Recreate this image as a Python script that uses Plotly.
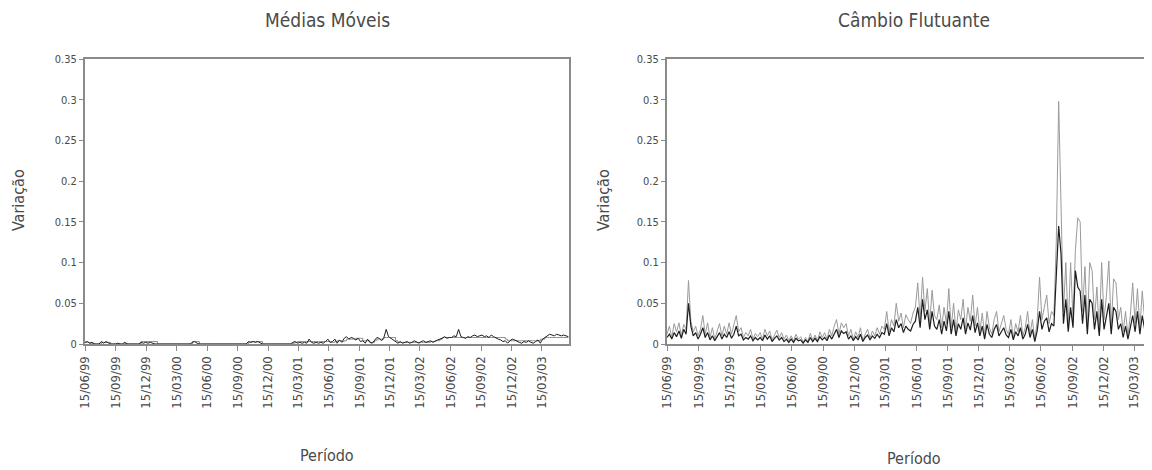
import pandas as pd
import plotly.graph_objects as go

# ---------------- data ----------------
weeks = pd.date_range("1999-06-15", periods=208, freq="7D")

tick_dates = ["1999-06-15", "1999-09-15", "1999-12-15", "2000-03-15", "2000-06-15",
              "2000-09-15", "2000-12-15", "2001-03-15", "2001-06-15", "2001-09-15",
              "2001-12-15", "2002-03-15", "2002-06-15", "2002-09-15", "2002-12-15",
              "2003-03-15"]
tick_labels = ["15/06/99", "15/09/99", "15/12/99", "15/03/00", "15/06/00", "15/09/00",
               "15/12/00", "15/03/01", "15/06/01", "15/09/01", "15/12/01", "15/03/02",
               "15/06/02", "15/09/02", "15/12/02", "15/03/03"]
y_ticks = [0, 0.05, 0.1, 0.15, 0.2, 0.25, 0.3, 0.35]

# Médias Móveis - step (gray) series
mm_gray = [
    0.002, 0.002, 0.001, 0.001, 0, 0, 0, 0.002, 0.002, 0.002, 0.002, 0, 0,
    0, 0, 0, 0, 0.001, 0, 0, 0, 0, 0, 0, 0.003, 0.003,
    0.003, 0.003, 0.003, 0.003, 0.003, 0, 0, 0, 0, 0, 0, 0, 0,
    0, 0, 0, 0, 0, 0, 0, 0.003, 0.003, 0.003, 0, 0, 0,
    0, 0, 0, 0, 0, 0, 0, 0, 0, 0, 0, 0, 0,
    0, 0, 0, 0, 0, 0.002, 0.003, 0.003, 0.003, 0.003, 0.003, 0, 0,
    0, 0, 0, 0, 0, 0, 0, 0, 0, 0, 0, 0.001, 0.002,
    0.003, 0.003, 0.003, 0.003, 0.003, 0.003, 0.003, 0.003, 0.003, 0.003, 0.003, 0.003, 0.003,
    0.003, 0.002, 0.002, 0.003, 0.004, 0.004, 0.003, 0.004, 0.006, 0.006, 0.006, 0.006, 0.007,
    0.007, 0.007, 0.004, 0.004, 0.004, 0.002, 0.002, 0.004, 0.006, 0.006, 0.006, 0.008, 0.008,
    0.008, 0.008, 0.008, 0.004, 0.002, 0.002, 0.002, 0.002, 0.002, 0.002, 0.002, 0.002, 0.002,
    0.002, 0.002, 0.002, 0.002, 0.002, 0.003, 0.003, 0.004, 0.004, 0.006, 0.008, 0.008, 0.008,
    0.008, 0.008, 0.008, 0.008, 0.008, 0.008, 0.008, 0.008, 0.008, 0.008, 0.008, 0.008, 0.008,
    0.008, 0.008, 0.008, 0.008, 0.008, 0.008, 0.008, 0.008, 0.008, 0.008, 0.008, 0.006, 0.004,
    0.004, 0.004, 0.004, 0.004, 0.004, 0.004, 0.004, 0.004, 0.004, 0.004, 0.004, 0.004, 0.004,
    0.006, 0.006, 0.008, 0.008, 0.008, 0.008, 0.008, 0.008, 0.008, 0.008, 0.008, 0.008, 0.008,
]
# Médias Móveis - daily variation (black) series
mm_black = [
    0.002, 0.003, 0.001, 0.002, 0, 0, 0, 0.003, 0.001, 0.003, 0.001, 0, 0,
    0, 0.001, 0, 0, 0.002, 0, 0, 0, 0, 0, 0, 0.002, 0.001,
    0.002, 0.001, 0.002, 0.001, 0, 0, 0, 0, 0, 0, 0, 0, 0,
    0, 0, 0, 0, 0, 0, 0, 0.002, 0.003, 0.001, 0, 0, 0,
    0, 0, 0, 0, 0, 0, 0, 0, 0, 0, 0, 0, 0,
    0, 0, 0, 0, 0, 0.003, 0.002, 0.003, 0.002, 0.003, 0.001, 0, 0,
    0, 0, 0, 0, 0, 0, 0, 0, 0, 0, 0, 0.002, 0.003,
    0.001, 0.002, 0.001, 0.002, 0.001, 0.006, 0.002, 0.001, 0.002, 0.001, 0.002, 0.001, 0.003,
    0.006, 0.002, 0.003, 0.006, 0.001, 0.005, 0.002, 0.007, 0.009, 0.006, 0.008, 0.007, 0.005,
    0.007, 0.003, 0.004, 0.001, 0.006, 0.002, 0.001, 0.005, 0.008, 0.007, 0.004, 0.008, 0.018,
    0.009, 0.007, 0.004, 0.002, 0.001, 0.003, 0.001, 0.002, 0.003, 0.001, 0.002, 0.004, 0.002,
    0.001, 0.003, 0.004, 0.002, 0.003, 0.004, 0.002, 0.004, 0.005, 0.006, 0.007, 0.009, 0.007,
    0.008, 0.008, 0.010, 0.009, 0.018, 0.009, 0.008, 0.007, 0.009, 0.008, 0.010, 0.011, 0.009,
    0.010, 0.011, 0.009, 0.010, 0.008, 0.011, 0.009, 0.007, 0.006, 0.005, 0.003, 0.004, 0.001,
    0.004, 0.006, 0.005, 0.003, 0.002, 0.001, 0.003, 0.002, 0.004, 0.002, 0.001, 0.003, 0.005,
    0.001, 0.006, 0.008, 0.010, 0.012, 0.011, 0.010, 0.012, 0.011, 0.010, 0.011, 0.010, 0.009,
]

# Câmbio Flutuante - gray series
cf_gray = [
    0.012, 0.022, 0.008, 0.025, 0.015, 0.026, 0.010, 0.024, 0.018, 0.078, 0.028, 0.015, 0.022,
    0.010, 0.018, 0.035, 0.012, 0.026, 0.008, 0.020, 0.006, 0.015, 0.025, 0.010, 0.022, 0.012,
    0.026, 0.012, 0.022, 0.035, 0.015, 0.020, 0.008, 0.014, 0.010, 0.018, 0.006, 0.013, 0.009,
    0.014, 0.006, 0.018, 0.010, 0.016, 0.005, 0.012, 0.017, 0.008, 0.014, 0.006, 0.011, 0.004,
    0.010, 0.004, 0.012, 0.006, 0.009, 0.002, 0.008, 0.003, 0.013, 0.005, 0.011, 0.004, 0.015,
    0.008, 0.014, 0.006, 0.018, 0.010, 0.022, 0.030, 0.012, 0.026, 0.020, 0.025, 0.010, 0.018,
    0.006, 0.015, 0.008, 0.020, 0.004, 0.012, 0.018, 0.007, 0.016, 0.010, 0.020, 0.012, 0.022,
    0.018, 0.040, 0.015, 0.030, 0.022, 0.050, 0.028, 0.038, 0.020, 0.036, 0.030, 0.025, 0.038,
    0.045, 0.075, 0.030, 0.082, 0.040, 0.068, 0.025, 0.066, 0.035, 0.030, 0.048, 0.020, 0.045,
    0.025, 0.068, 0.020, 0.050, 0.015, 0.042, 0.030, 0.055, 0.018, 0.045, 0.028, 0.060, 0.022,
    0.045, 0.015, 0.038, 0.010, 0.040, 0.020, 0.012, 0.030, 0.040, 0.015, 0.025, 0.035, 0.018,
    0.012, 0.030, 0.008, 0.025, 0.015, 0.035, 0.010, 0.020, 0.040, 0.012, 0.030, 0.005, 0.028,
    0.082, 0.030, 0.045, 0.060, 0.025, 0.040, 0.035, 0.125, 0.298, 0.170, 0.040, 0.100, 0.020,
    0.100, 0.030, 0.115, 0.155, 0.150, 0.040, 0.095, 0.020, 0.100, 0.090, 0.030, 0.070, 0.015,
    0.100, 0.030, 0.060, 0.102, 0.020, 0.080, 0.075, 0.030, 0.045, 0.015, 0.040, 0.010, 0.035,
    0.075, 0.025, 0.068, 0.020, 0.065, 0.030, 0.068, 0.025, 0.070, 0.030, 0.050, 0.020, 0.045,
]
# Câmbio Flutuante - black series
cf_black = [
    0.008, 0.012, 0.006, 0.014, 0.009, 0.016, 0.007, 0.018, 0.012, 0.050, 0.022, 0.010, 0.014,
    0.006, 0.012, 0.020, 0.008, 0.014, 0.005, 0.010, 0.004, 0.009, 0.014, 0.006, 0.012, 0.008,
    0.015, 0.007, 0.012, 0.022, 0.010, 0.012, 0.005, 0.008, 0.006, 0.010, 0.004, 0.008, 0.005,
    0.008, 0.004, 0.011, 0.006, 0.010, 0.003, 0.007, 0.010, 0.005, 0.008, 0.003, 0.006, 0.002,
    0.006, 0.002, 0.007, 0.004, 0.005, 0.001, 0.005, 0.002, 0.008, 0.003, 0.007, 0.003, 0.009,
    0.005, 0.008, 0.004, 0.011, 0.006, 0.013, 0.018, 0.008, 0.016, 0.013, 0.015, 0.006, 0.010,
    0.004, 0.009, 0.005, 0.012, 0.003, 0.008, 0.011, 0.005, 0.010, 0.007, 0.012, 0.008, 0.014,
    0.012, 0.025, 0.010, 0.020, 0.015, 0.030, 0.020, 0.025, 0.014, 0.022, 0.018, 0.016, 0.024,
    0.028, 0.045, 0.020, 0.055, 0.030, 0.042, 0.018, 0.040, 0.022, 0.018, 0.030, 0.012, 0.028,
    0.016, 0.040, 0.012, 0.030, 0.010, 0.025, 0.018, 0.032, 0.012, 0.026, 0.017, 0.035, 0.014,
    0.026, 0.010, 0.022, 0.006, 0.024, 0.012, 0.008, 0.018, 0.024, 0.010, 0.015, 0.020, 0.011,
    0.008, 0.018, 0.005, 0.015, 0.010, 0.020, 0.006, 0.012, 0.024, 0.008, 0.018, 0.003, 0.016,
    0.040, 0.018, 0.028, 0.032, 0.015, 0.025, 0.022, 0.090, 0.145, 0.110, 0.025, 0.055, 0.015,
    0.045, 0.020, 0.090, 0.070, 0.065, 0.025, 0.060, 0.012, 0.055, 0.050, 0.018, 0.040, 0.010,
    0.055, 0.018, 0.035, 0.050, 0.012, 0.045, 0.040, 0.018, 0.025, 0.008, 0.022, 0.006, 0.020,
    0.035, 0.015, 0.040, 0.012, 0.035, 0.018, 0.038, 0.015, 0.040, 0.018, 0.030, 0.012, 0.028,
]

# ---------------- figure ----------------
W, H = 1152, 470
OFF = 8  # page body margin: screen position = figure position + 8
FONT = "Liberation Sans Narrow, DejaVu Sans Condensed, Arial Narrow, sans-serif"
TXT = "#4a4a4a"
AX = "#8a8a8a"

def fx(px):
    return (px - OFF) / W

def fy(py):
    return (H - (py - OFF)) / H

fig = go.Figure()
fig.add_trace(go.Scatter(x=weeks, y=mm_gray, mode="lines", line=dict(color="#8c8c8c", width=1, shape="hv"),
                         xaxis="x", yaxis="y", showlegend=False, hoverinfo="skip"))
fig.add_trace(go.Scatter(x=weeks, y=mm_black, mode="lines", line=dict(color="#1e1e1e", width=1),
                         xaxis="x", yaxis="y", showlegend=False))
fig.add_trace(go.Scatter(x=weeks, y=cf_gray, mode="lines", line=dict(color="#9a9a9a", width=1),
                         xaxis="x2", yaxis="y2", showlegend=False, hoverinfo="skip"))
fig.add_trace(go.Scatter(x=weeks, y=cf_black, mode="lines", line=dict(color="#1e1e1e", width=1.2),
                         xaxis="x2", yaxis="y2", showlegend=False))

ydom = [fy(344), fy(59)]
common_x = dict(type="date", tickmode="array", tickvals=tick_dates, ticktext=tick_labels,
                tickangle=-90, ticks="outside", ticklen=5, tickcolor=AX, tickwidth=1,
                showline=True, linecolor=AX, linewidth=2, showgrid=False, zeroline=False,
                automargin=False,
                tickfont=dict(family=FONT, size=13, color=TXT))
common_y = dict(range=[0, 0.35], tickmode="array", tickvals=y_ticks,
                ticks="outside", ticklen=4, tickcolor=AX, tickwidth=1,
                showline=True, linecolor=AX, linewidth=2, showgrid=False, zeroline=False,
                automargin=False,
                tickfont=dict(family=FONT, size=11, color=TXT), domain=ydom)

fig.update_layout(
    template="none",
    width=W, height=H,
    margin=dict(l=0, r=0, t=0, b=0, autoexpand=False),
    paper_bgcolor="white", plot_bgcolor="white",
    xaxis=dict(common_x, domain=[fx(85), fx(569)], range=["1999-06-15", "2003-06-05"],
               mirror=True, anchor="y"),
    yaxis=dict(common_y, mirror=True, anchor="x"),
    xaxis2=dict(common_x, domain=[fx(667), 1.0], range=["1999-06-15", "2003-05-30"],
                mirror=True, anchor="y2"),
    yaxis2=dict(common_y, mirror=False, anchor="x2"),
)

def ann(text, x, y, size, angle=0):
    fig.add_annotation(text=text, x=fx(x), y=fy(y), xref="paper", yref="paper",
                       showarrow=False, textangle=angle, xanchor="center", yanchor="middle",
                       font=dict(family=FONT, size=size, color=TXT))

ann("Médias Móveis", 327, 20, 19)
ann("Câmbio Flutuante", 914, 20, 19)
ann("Variação", 18, 200, 16, -90)
ann("Variação", 603, 200, 16, -90)
ann("Período", 327, 455, 16)
ann("Período", 914, 458, 16)

fig.write_html("out.html")
